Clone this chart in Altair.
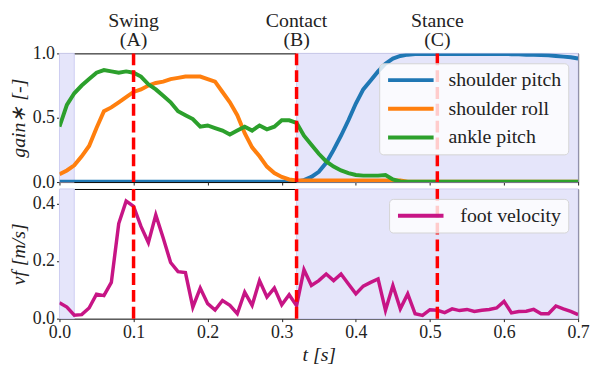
import altair as alt
import numpy as np
import pandas as pd

# sampling grid (s)
t = np.round(np.arange(71) * 0.01, 2)

shoulder_pitch = [0.003] * 33 + [
    0.015, 0.04, 0.08, 0.15, 0.25, 0.36, 0.48, 0.61, 0.72, 0.79, 0.86, 0.92, 0.96, 0.98, 0.99,
] + [0.995] * 13 + [0.994, 0.993, 0.99, 0.99, 0.987, 0.985, 0.98, 0.975, 0.97, 0.96]

shoulder_roll = [
    0.06, 0.09, 0.13, 0.20, 0.28, 0.42, 0.55, 0.58, 0.62, 0.66,
    0.70, 0.72, 0.75, 0.77, 0.78, 0.80, 0.81, 0.82, 0.82, 0.82,
    0.80, 0.78, 0.70, 0.62, 0.52, 0.38, 0.27, 0.20, 0.12, 0.07,
    0.04, 0.02, 0.012,
] + [0.012] * 14 + [0.003] * 24

ankle_pitch = [
    0.43, 0.60, 0.69, 0.75, 0.80, 0.85, 0.87, 0.86, 0.85, 0.86,
    0.85, 0.82, 0.76, 0.72, 0.67, 0.62, 0.55, 0.52, 0.49, 0.43,
    0.44, 0.42, 0.40, 0.37, 0.40, 0.43, 0.40, 0.44, 0.41, 0.43,
    0.48, 0.48, 0.46,
    0.36, 0.29, 0.22, 0.16, 0.12, 0.09, 0.07, 0.055, 0.05, 0.05,
    0.05, 0.055, 0.02, 0.005,
] + [0.003] * 24

foot_velocity = [
    0.055, 0.04, 0.012, 0.014, 0.037, 0.085, 0.08, 0.126, 0.33, 0.408,
    0.39, 0.32, 0.264, 0.36, 0.28, 0.195, 0.163, 0.16, 0.04, 0.106,
    0.052, 0.03, 0.063, 0.046, 0.017, 0.092, 0.046, 0.132, 0.075, 0.106,
    0.048, 0.083, 0.045,
    0.17, 0.115, 0.132, 0.155, 0.132, 0.155, 0.12, 0.086, 0.113, 0.126,
    0.138, 0.029, 0.115, 0.034, 0.086, 0.017, 0.011, 0.031, 0.029, 0.021,
    0.034, 0.028, 0.032, 0.025, 0.029, 0.032, 0.037, 0.06, 0.02, 0.025,
    0.026, 0.032, 0.017, 0.017, 0.044, 0.034, 0.025, 0.014,
]

series_names = ["shoulder pitch", "shoulder roll", "ankle pitch"]
series_colors = ["#1f77b4", "#ff7f0e", "#2ca02c"]
vel_name = ["foot velocity"]
vel_color = ["#c71585"]

event_t = [0.1, 0.32, 0.51]
event_name = ["Swing", "Contact", "Stance"]
event_tag = ["(A)", "(B)", "(C)"]

shade_start = [0.0, 0.32]
shade_end = [0.02, 0.7]

x_ticks = [0.0, 0.1, 0.2, 0.3, 0.4, 0.5, 0.6, 0.7]

# ---- tables ----
gains = pd.concat(
    [pd.DataFrame({"t": t, "value": v, "series": n})
     for n, v in zip(series_names, [shoulder_pitch, shoulder_roll, ankle_pitch])],
    ignore_index=True,
)
gains["order"] = gains["series"].map({n: i for i, n in enumerate(series_names)})
vel = pd.DataFrame({"t": t, "v": foot_velocity, "series": vel_name[0]})
events = pd.DataFrame({"t": event_t, "name": event_name, "tag": event_tag})
shades = pd.DataFrame({"start": shade_start, "end": shade_end})

W, H1, H2 = 524, 130, 131
FONT = "Liberation Serif"
xscale = alt.Scale(domain=[0, 0.7], nice=False, zero=False)

top_xaxis = alt.Axis(labels=False, title=None, values=x_ticks, tickSize=3)
bot_xaxis = alt.Axis(format=".1f", title="t [s]", values=x_ticks, tickSize=3,
                     titleFontStyle="italic", titlePadding=3, labelFlush=False,
                     labelFont=FONT, titleFont=FONT)


def legend(pad_label):
    return alt.Legend(
        title=None, orient="top-right", offset=10, symbolType="stroke",
        symbolSize=2116, symbolStrokeWidth=4, clipHeight=20, rowPadding=9,
        labelFont=FONT, labelFontSize=20, labelColor="#222", labelOffset=pad_label,
        padding=7, fillColor="rgba(255,255,255,0.8)", strokeColor="#d5d5d5",
        cornerRadius=4,
    )


def panel(xaxis, line_layer, extra=None):
    shade = alt.Chart(shades).mark_rect(
        color="#e5e5fa", stroke="#cfcff3", strokeWidth=1
    ).encode(x=alt.X("start:Q", scale=xscale, axis=xaxis), x2="end:Q")
    rules = alt.Chart(events).mark_rule(
        color="#ff0000", strokeWidth=3.5, strokeDash=[12, 5]
    ).encode(x=alt.X("t:Q", scale=xscale, axis=xaxis))
    layers = [shade, line_layer, rules]
    if extra:
        layers += extra
    return alt.layer(*layers)


top_lines = alt.Chart(gains).mark_line(strokeWidth=4, clip=True).encode(
    x=alt.X("t:Q", scale=xscale, axis=top_xaxis),
    y=alt.Y("value:Q", scale=alt.Scale(domain=[0, 1], nice=False),
            axis=alt.Axis(values=[0, 0.5, 1.0], format=".1f", title="gain∗ [-]",
                          titleFontStyle="italic", tickSize=3, titlePadding=4,
                          labelFont=FONT, titleFont=FONT)),
    color=alt.Color("series:N", scale=alt.Scale(domain=series_names, range=series_colors),
                    legend=legend(13)),
    order="order:Q",
)

top_text1 = alt.Chart(events).mark_text(
    font=FONT, fontSize=20, baseline="alphabetic", color="#222"
).encode(x=alt.X("t:Q", scale=xscale, axis=top_xaxis), text="name:N", y=alt.value(-27))
top_text2 = alt.Chart(events).mark_text(
    font=FONT, fontSize=20, baseline="alphabetic", color="#222"
).encode(x=alt.X("t:Q", scale=xscale, axis=top_xaxis), text="tag:N", y=alt.value(-7))

top = panel(top_xaxis, top_lines, [top_text1, top_text2]).properties(width=W, height=H1)

bot_line = alt.Chart(vel).mark_line(strokeWidth=3.5, clip=True).encode(
    x=alt.X("t:Q", scale=xscale, axis=bot_xaxis),
    y=alt.Y("v:Q", scale=alt.Scale(domain=[0, 0.45], nice=False),
            axis=alt.Axis(values=[0, 0.2, 0.4], format=".1f", title="vf [m/s]",
                          titleFontStyle="italic", tickSize=3, titlePadding=4,
                          labelFont=FONT, titleFont=FONT)),
    color=alt.Color("series:N", scale=alt.Scale(domain=vel_name, range=vel_color),
                    legend=legend(15)),
)

bottom = panel(bot_xaxis, bot_line).properties(width=W, height=H2)

chart = (
    alt.vconcat(top, bottom, spacing=7, bounds="flush")
    .resolve_scale(color="independent")
    .properties(padding={"left": 0, "top": 0, "right": 0, "bottom": 0})
    .configure(font=FONT)
    .configure_view(stroke="#000", strokeWidth=1)
    .configure_text(font=FONT)
    .configure_legend(labelFont=FONT)
    .configure_axis(
        labelFont=FONT, labelFontSize=18, labelColor="#222",
        titleFont=FONT, titleFontSize=20, titleFontWeight="normal", titleColor="#222",
        tickColor="#222", grid=False, domain=False, labelPadding=2,
    )
)

chart.save("out.html", embed_options={"renderer": "svg", "actions": False})
